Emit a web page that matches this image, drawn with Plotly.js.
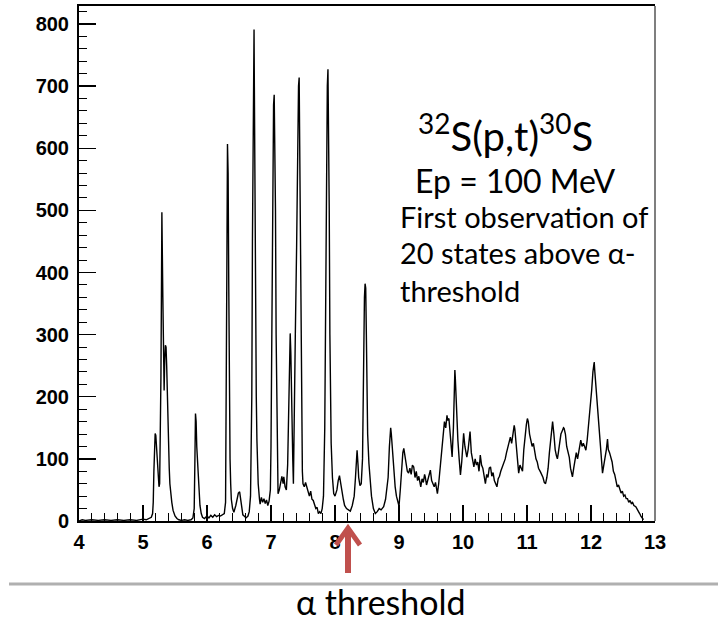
<!DOCTYPE html>
<html>
<head>
<meta charset="utf-8">
<script src="https://cdn.plot.ly/plotly-3.0.1.min.js"></script>
<style>html,body{margin:0;padding:0;background:#fff;}#chart{width:718px;height:621px;}</style>
</head>
<body>
<div id="chart"></div>
<script>
// Excitation energy (MeV) and counts, in three segments
const energyLow = [4.00,4.05,4.10,4.20,4.30,4.40,4.50,4.60,4.70,4.80,4.90,5.00,5.05,5.10,5.13,5.15,
  5.16,5.17,5.18,5.19,5.20,5.21,5.22,5.23,5.24,5.25,5.26,5.27,5.28,5.29,5.295,5.30,5.31,5.32,5.33,5.34,5.35,5.36,5.37,5.38,5.39,5.40,5.41,5.42,5.43,5.45,5.47,5.50,5.53,5.56,5.60,5.65,5.70,5.75,5.78,
  5.80,5.81,5.82,5.83,5.84,5.85,5.86,5.87,5.88,5.89,5.91,5.93,5.96,6.00,6.03,6.06,6.09,6.12,6.15,6.18,6.21,6.24,6.27,
  6.29,6.30,6.31,6.32,6.33,6.34,6.35,6.36,6.37,6.38,6.40,6.42,6.45,6.47,6.49,6.51,6.52,6.54,6.56,6.58,6.61,6.64,6.66,6.68,
  6.70,6.71,6.72,6.73,6.735,6.74,6.75,6.76,6.77,6.78,6.79,6.80,6.82,6.83,6.85,6.87,6.89,6.91,6.93,6.95,6.97,6.99];
const countsLow = [0,2,1,2,1,2,1,2,1,2,1,3,2,4,6,12,
  30,80,125,141,138,120,100,95,70,55,60,120,230,400,497,450,360,230,210,260,283,280,250,200,150,110,85,60,45,30,17,8,4,2,1,2,1,2,5,
  20,90,173,160,120,100,80,55,40,25,12,6,4,8,5,9,6,10,7,9,8,10,12,
  30,150,400,607,560,380,200,100,60,35,20,14,25,35,45,47,40,20,10,8,5,8,15,40,
  200,450,635,745,791,700,450,300,200,130,97,60,35,27,38,30,36,28,34,25,32,50];

const energyMid = [7.00,7.01,7.02,7.03,7.04,7.05,7.06,7.07,7.08,7.09,7.10,7.11,7.13,7.15,7.17,7.19,7.20,7.22,7.24,
  7.26,7.28,7.29,7.30,7.31,7.32,7.33,7.34,7.35,7.36,7.38,7.40,7.42,7.43,7.44,7.45,7.46,7.47,7.48,7.49,7.50,
  7.52,7.54,7.56,7.58,7.60,7.62,7.64,7.66,7.68,7.70,7.72,7.74,7.76,7.78,7.80,7.82,
  7.84,7.86,7.87,7.88,7.89,7.90,7.91,7.92,7.93,7.94,7.96,7.98,8.00,8.03,8.05,8.07,8.09,8.11,8.13,8.15,8.18,8.21,8.24,8.27,8.30,
  8.32,8.33,8.345,8.36,8.37,8.39,8.41,8.43,8.44,8.45,8.46,8.47,8.48,8.49,8.50,8.51,8.53,8.55,8.57,8.60,8.63,8.66,8.69,8.72,8.76,8.79,
  8.81,8.83,8.85,8.87,8.88,8.90,8.92,8.94,8.96,8.98];
const countsMid = [120,300,430,600,670,686,610,500,300,162,80,44,50,60,72,60,71,55,50,
  90,200,290,302,270,180,120,100,60,120,300,440,640,700,714,600,500,300,150,80,60,
  55,62,55,45,40,48,35,33,25,20,22,12,15,12,20,40,
  150,420,650,700,727,650,500,300,180,125,70,44,40,50,65,73,60,45,35,25,20,18,16,25,40,
  70,100,114,90,70,57,60,100,200,300,360,382,375,300,200,140,93,61,40,20,12,15,20,18,23,35,
  49,70,120,150,140,110,80,55,40,30];

const energyHigh = [9.00,9.02,9.04,9.06,9.075,9.09,9.11,9.13,9.15,9.17,9.19,9.21,9.23,9.25,9.27,9.29,9.31,9.33,9.34,9.36,9.38,9.40,9.41,9.43,9.45,9.47,9.49,9.51,9.53,9.55,9.57,9.59,9.60,
  9.62,9.64,9.66,9.67,9.69,9.71,9.73,9.75,9.76,9.78,9.80,9.82,9.83,9.85,9.86,9.873,9.88,9.90,9.92,9.94,9.96,9.98,
  10.00,10.01,10.03,10.05,10.06,10.08,10.10,10.11,10.13,10.15,10.17,10.19,10.21,10.23,10.25,10.27,10.29,10.31,10.33,10.35,10.37,10.39,10.41,10.43,10.45,10.47,10.49,10.51,10.53,
  10.55,10.57,10.59,10.61,10.64,10.66,10.68,10.70,10.72,10.74,10.76,10.78,10.80,10.81,10.83,10.85,10.87,10.89,10.91,10.93,10.95,10.97,10.99,
  11.006,11.02,11.04,11.06,11.08,11.10,11.12,11.14,11.16,11.18,11.21,11.23,11.25,11.27,11.29,11.31,11.33,11.35,11.37,11.39,11.40,11.42,11.44,11.46,11.475,
  11.49,11.51,11.53,11.55,11.57,11.58,11.60,11.62,11.64,11.66,11.68,11.70,11.71,11.73,11.75,11.77,11.79,11.81,11.83,11.84,11.86,11.88,11.90,11.92,11.94,11.96,11.98,11.99,
  12.01,12.03,12.05,12.06,12.08,12.09,12.11,12.13,12.15,12.16,12.18,12.20,12.22,12.24,12.258,12.27,12.29,12.31,12.33,12.35,12.37,12.39,12.41,12.43,12.45,12.47,12.49,
  12.51,12.53,12.55,12.57,12.59,12.61,12.63,12.65,12.67,12.70,12.72,12.74,12.76,12.78,12.80,12.82];
const countsHigh = [24,50,90,110,117,105,95,80,77,85,75,90,87,70,80,65,72,60,55,68,62,75,71,58,66,70,82,65,60,55,62,48,44,
  60,85,110,119,140,160,150,170,162,165,140,110,103,150,220,243,230,170,130,100,74,95,
  120,141,120,105,103,115,135,144,110,95,87,100,90,95,80,106,90,85,70,60,75,70,85,87,72,78,65,60,55,
  68,72,80,85,93,100,110,118,125,135,125,140,154,148,120,100,77,90,85,80,115,140,155,
  165,160,140,130,120,125,110,100,95,85,79,75,70,62,60,70,85,110,130,155,160,140,115,105,100,
  110,125,140,145,150,149,140,120,110,103,85,75,71,85,95,110,100,115,130,130,120,125,120,114,130,150,175,184,
  210,240,256,240,210,200,170,136,110,95,77,90,100,115,132,115,110,103,95,80,75,65,55,58,50,45,48,
  40,42,36,36,30,33,28,30,25,23,20,15,12,8,5,2];

const xTickVals = [4,5,6,7,8,9,10,11,12,13];
const yTickVals = [0,100,200,300,400,500,600,700,800];

const energy = energyLow.concat(energyMid, energyHigh);
const counts = countsLow.concat(countsMid, countsHigh);

// pixel -> paper helpers (plot area: x 79..655, y 6..521)
const L = 79, R = 655, T = 6, B = 521;
const px = v => (v - L) / (R - L);
const py = v => (B - v) / (B - T);

const tickFont = {family: '"Liberation Sans Narrow", "Arial Narrow", "Liberation Sans", Arial, sans-serif', size: 20, color: '#000', weight: 'bold'};
const textFont = 'Lato, "Open Sans", sans-serif';

const trace = {
  x: energy, y: counts, type: 'scatter', mode: 'lines',
  line: {color: '#000', width: 1.4}, hoverinfo: 'skip'
};

const layout = {
  width: 718, height: 621,
  margin: {l: L, r: 718 - R, t: T, b: 621 - B, pad: 0},
  paper_bgcolor: '#fff', plot_bgcolor: '#fff',
  showlegend: false,
  xaxis: {
    range: [4, 13], tickmode: 'array', tickvals: xTickVals, ticktext: xTickVals.map(String),
    ticks: 'inside', ticklen: 16, tickwidth: 1.3, tickcolor: '#000',
    minor: {dtick: 0.2, tick0: 4, ticks: 'inside', ticklen: 8, tickwidth: 1, tickcolor: '#000', showgrid: false},
    showline: true, linecolor: '#000', linewidth: 2, mirror: true,
    showgrid: false, zeroline: false, tickfont: tickFont, ticklabelstandoff: 2
  },
  yaxis: {
    range: [0, 829], tickmode: 'array', tickvals: yTickVals, ticktext: yTickVals.map(String),
    ticks: 'inside', ticklen: 17, tickwidth: 1.3, tickcolor: '#000',
    minor: {dtick: 20, tick0: 0, ticks: 'inside', ticklen: 8, tickwidth: 1, tickcolor: '#000', showgrid: false},
    showline: true, linecolor: '#000', linewidth: 2,
    showgrid: false, zeroline: false, tickfont: tickFont, ticklabelstandoff: 4
  },
  shapes: [
    {type: 'line', xref: 'paper', yref: 'paper', x0: 1, x1: 1, y0: 0, y1: 1, line: {color: '#7f7f7f', width: 2}},
    {type: 'line', xref: 'paper', yref: 'paper', x0: px(9), x1: px(718), y0: py(584), y1: py(584), line: {color: '#b0b0b0', width: 3}},
    {type: 'line', xref: 'paper', yref: 'paper', x0: px(348), x1: px(348), y0: py(573), y1: py(531), line: {color: '#c0504d', width: 6}},
    {type: 'path', xref: 'paper', yref: 'paper',
     path: `M ${px(336)},${py(545)} L ${px(348)},${py(528)} L ${px(360)},${py(545)}`,
     line: {color: '#c0504d', width: 5}, fillcolor: 'rgba(0,0,0,0)'}
  ],
  annotations: [
    {xref: 'paper', yref: 'paper', x: px(505), y: py(133), xanchor: 'center', yanchor: 'middle', showarrow: false,
     text: '<sup>32</sup>S(p,t)<sup>30</sup>S', font: {family: textFont, size: 40, color: '#000'}},
    {xref: 'paper', yref: 'paper', x: px(515), y: py(181), xanchor: 'center', yanchor: 'middle', showarrow: false,
     text: 'Ep = 100 MeV', font: {family: textFont, size: 32, color: '#000'}},
    {xref: 'paper', yref: 'paper', x: px(398), y: py(216), xanchor: 'left', yanchor: 'middle', showarrow: false,
     text: 'First observation of', font: {family: textFont, size: 29, color: '#000'}},
    {xref: 'paper', yref: 'paper', x: px(398), y: py(253), xanchor: 'left', yanchor: 'middle', showarrow: false,
     text: '20 states above α-', font: {family: textFont, size: 29, color: '#000'}},
    {xref: 'paper', yref: 'paper', x: px(398), y: py(290), xanchor: 'left', yanchor: 'middle', showarrow: false,
     text: 'threshold', font: {family: textFont, size: 29, color: '#000'}},
    {xref: 'paper', yref: 'paper', x: px(381), y: py(601), xanchor: 'center', yanchor: 'middle', showarrow: false,
     text: 'α threshold', font: {family: textFont, size: 34, color: '#000'}}
  ]
};

Plotly.newPlot('chart', [trace], layout, {displayModeBar: false, staticPlot: true});
</script>
</body>
</html>
